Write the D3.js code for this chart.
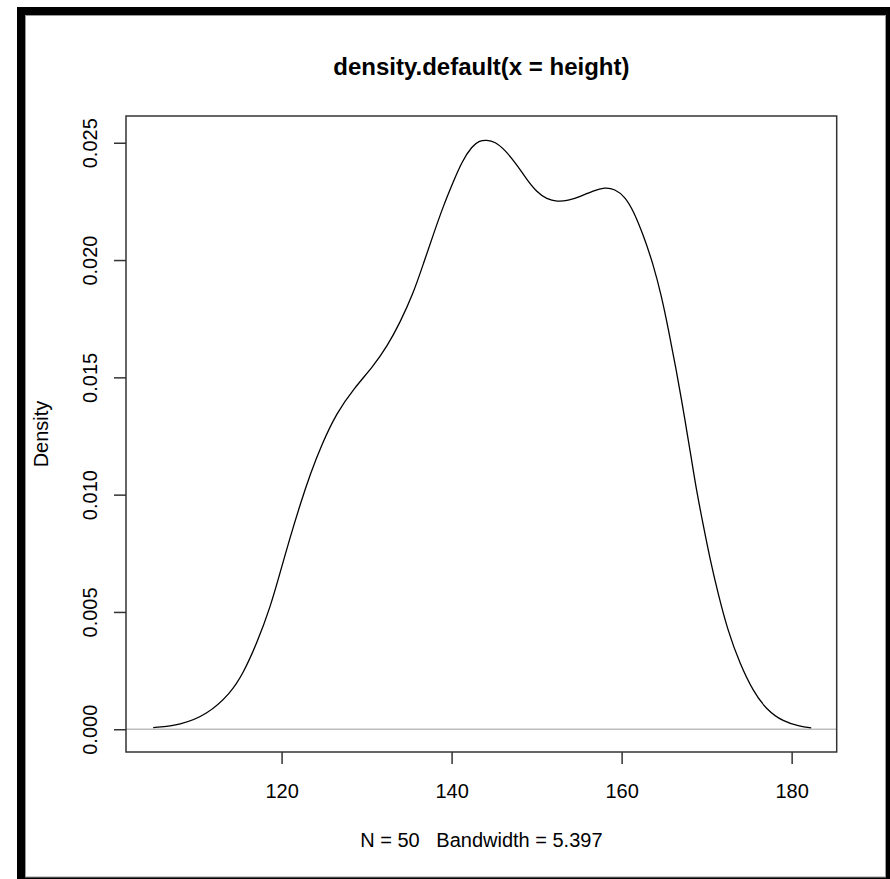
<!DOCTYPE html>
<html>
<head>
<meta charset="utf-8">
<script src="https://cdnjs.cloudflare.com/ajax/libs/d3/7.8.5/d3.min.js"></script>
<style>
  body { margin: 0; background: #fff; }
  text { font-family: "Liberation Sans", Arial, sans-serif; fill: #000; }
</style>
</head>
<body>
<div id="chart"></div>
<script>
// density curve
var densX = [104.9, 108.1, 111.2, 114.0, 115.5, 117.1, 118.7, 119.8, 121.0, 122.2, 123.4, 124.7,
             126.5, 128.5, 130.8, 132.4, 133.9, 135.5, 136.7, 137.9, 139.0, 140.2, 141.2, 142.4,
             143.3, 144.1, 145.1, 146.3, 147.7, 148.8, 150.0, 151.2, 152.4, 153.7, 155.1, 156.7,
             158.0, 159.2, 160.4, 161.4, 162.5, 163.7, 164.7, 165.5, 166.3, 167.1, 167.6, 168.2,
             168.8, 169.6, 170.4, 171.4, 172.5, 173.9, 175.5, 177.0, 179.0, 181.0, 182.3];
var densY = [0.00007, 0.00018, 0.00061, 0.00153, 0.00239, 0.00367, 0.00523, 0.00665, 0.00817, 0.00960, 0.01090, 0.01212,
             0.01350, 0.01452, 0.01548, 0.01631, 0.01731, 0.01858, 0.01986, 0.02114, 0.02228, 0.02334, 0.02419, 0.02486,
             0.02509, 0.02512, 0.02505, 0.02469, 0.02405, 0.02345, 0.02290, 0.02259, 0.02249, 0.02253, 0.02270, 0.02296,
             0.02310, 0.02303, 0.02270, 0.02209, 0.02111, 0.01985, 0.01845, 0.01705, 0.01555, 0.01395, 0.01285, 0.01155,
             0.01020, 0.00870, 0.00725, 0.00570, 0.00420, 0.00280, 0.00160, 0.00085, 0.00032, 0.00012, 0.00006];

var xTicks = [120, 140, 160, 180];
var yTicks = [0, 0.005, 0.010, 0.015, 0.020, 0.025];
var xDomain = [101.7, 185.3];
var yDomain = [-0.00097, 0.02614];

var titleText = "density.default(x = height)";
var subText = "N = 50   Bandwidth = 5.397";
var yLabel = "Density";

var W = 890, H = 879;
var box = {left: 126, top: 116, right: 836.7, bottom: 752};

var svg = d3.select("#chart").append("svg")
    .attr("width", W)
    .attr("height", H);

// window frame
svg.append("rect").attr("x", 17).attr("y", 7).attr("width", W - 17).attr("height", H - 7).attr("fill", "#000");
svg.append("rect").attr("x", 25.5).attr("y", 15.5).attr("width", 860).attr("height", 861.5)
    .attr("fill", "#fff").attr("stroke", "#9a9a9a").attr("stroke-width", 1);

var x = d3.scaleLinear().domain(xDomain).range([box.left, box.right]);
var y = d3.scaleLinear().domain(yDomain).range([box.bottom, box.top]);

var pts = densX.map(function(d, i) { return [d, densY[i]]; });

// zero line
svg.append("line")
    .attr("x1", box.left).attr("x2", box.right)
    .attr("y1", y(0)).attr("y2", y(0))
    .attr("stroke", "#bebebe").attr("stroke-width", 1.5);

var line = d3.line()
    .x(function(d) { return x(d[0]); })
    .y(function(d) { return y(d[1]); })
    .curve(d3.curveBasis);

svg.append("path")
    .datum(pts)
    .attr("d", line)
    .attr("fill", "none")
    .attr("stroke", "#000")
    .attr("stroke-width", 1.3);

// axes
var gx = svg.append("g")
    .attr("transform", "translate(0," + box.bottom + ")")
    .call(d3.axisBottom(x).tickValues(xTicks).tickSize(12).tickPadding(0).tickFormat(d3.format("d")));
gx.select(".domain").remove();
gx.selectAll("line").attr("stroke", "#333").attr("stroke-width", 1.5);
gx.selectAll("text").attr("font-size", 20).attr("y", 46).attr("dy", 0).attr("fill", "#000");

var gy = svg.append("g")
    .attr("transform", "translate(" + box.left + ",0)")
    .call(d3.axisLeft(y).tickValues(yTicks).tickSize(12).tickFormat(d3.format(".3f")));
gy.select(".domain").remove();
gy.selectAll("line").attr("stroke", "#333").attr("stroke-width", 1.5);
gy.selectAll("text")
    .attr("font-size", 20)
    .attr("transform", "rotate(-90)")
    .attr("x", 0).attr("y", -29.3).attr("dy", 0)
    .attr("text-anchor", "middle")
    .attr("fill", "#000");

// plot box
svg.append("rect")
    .attr("x", box.left).attr("y", box.top)
    .attr("width", box.right - box.left).attr("height", box.bottom - box.top)
    .attr("fill", "none").attr("stroke", "#333").attr("stroke-width", 1.5);

// titles
var cx = (box.left + box.right) / 2;
svg.append("text")
    .attr("x", cx).attr("y", 75)
    .attr("text-anchor", "middle")
    .attr("font-size", 24).attr("font-weight", "bold")
    .text(titleText);

svg.append("text")
    .attr("x", cx).attr("y", 846.7)
    .attr("text-anchor", "middle")
    .attr("font-size", 20)
    .style("white-space", "pre")
    .text(subText);

svg.append("text")
    .attr("transform", "translate(48," + ((box.top + box.bottom) / 2) + ") rotate(-90)")
    .attr("text-anchor", "middle")
    .attr("font-size", 20)
    .text(yLabel);
</script>
</body>
</html>
